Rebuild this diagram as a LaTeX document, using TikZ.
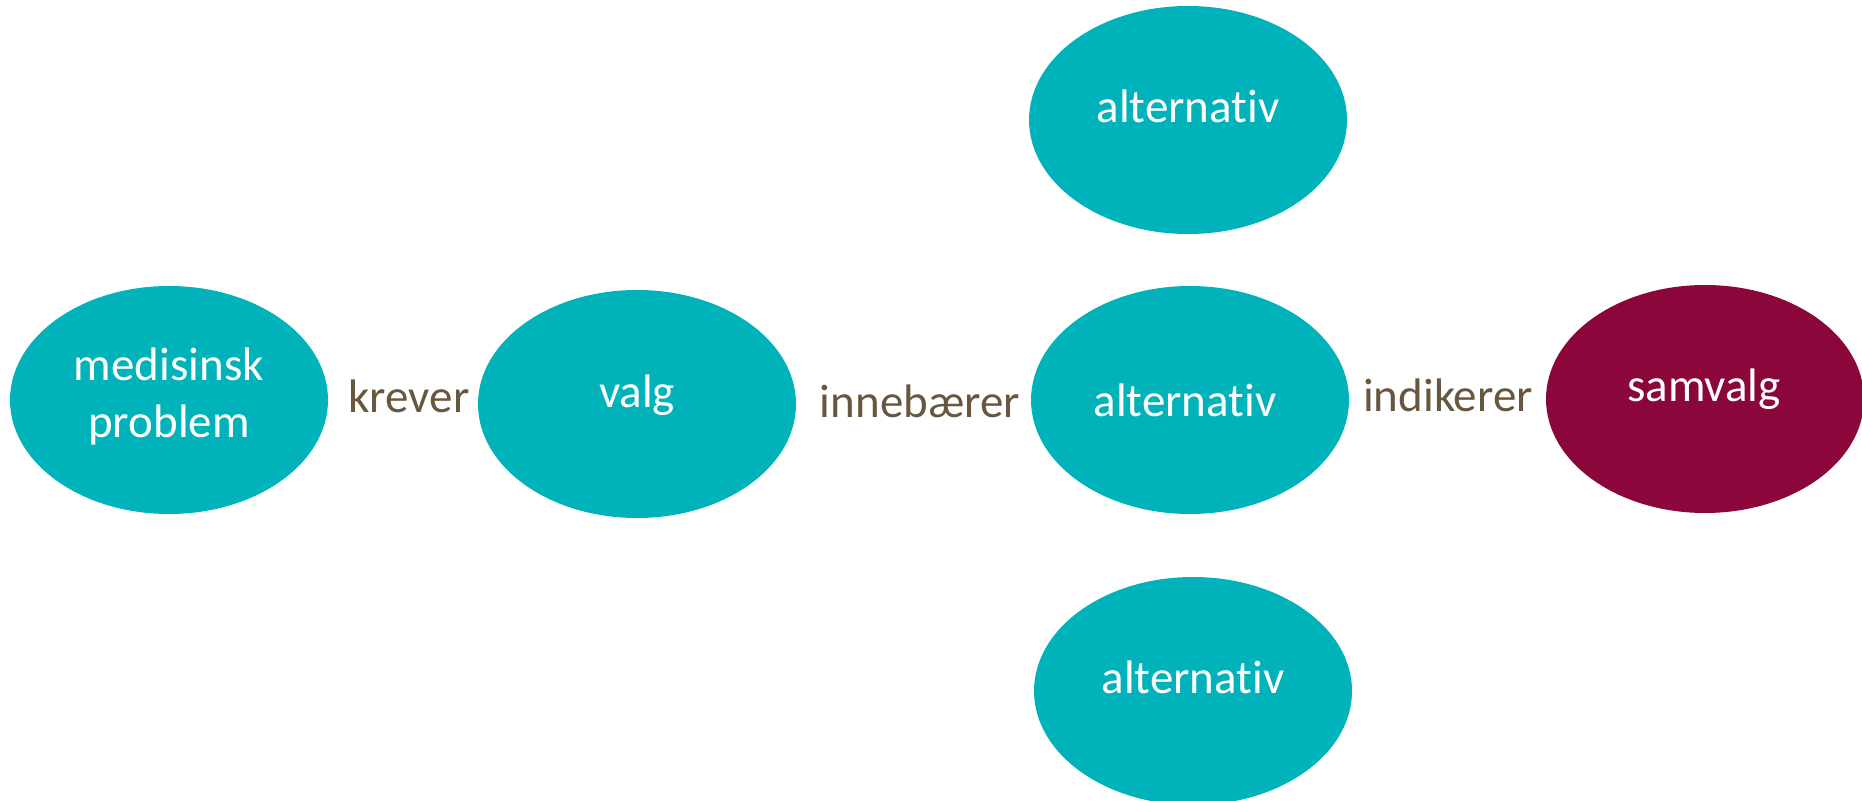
\documentclass[tikz,border=0pt]{standalone}
\usepackage{fontspec}
\setmainfont{Carlito}[Ligatures={NoCommon}]
\usetikzlibrary{shapes.geometric}
\definecolor{tealc}{RGB}{0,178,185}
\definecolor{maroonc}{RGB}{138,6,59}
\definecolor{brownc}{RGB}{104,86,62}
\tikzset{
  bubble/.style={ellipse, fill=tealc, draw=none, minimum width=159pt, minimum height=114pt, inner sep=0pt},
  redbubble/.style={bubble, fill=maroonc},
  btext/.style={text=white, font=\fontsize{23.5pt}{28.5pt}\selectfont, anchor=base, inner sep=0pt, align=center},
  ltext/.style={text=brownc, font=\fontsize{23.5pt}{28.5pt}\selectfont, anchor=base, inner sep=0pt}
}
\begin{document}
\begin{tikzpicture}[x=0.5pt, y=-0.5pt]
\useasboundingbox (0,0) rectangle (1862,801);
% ellipses
\node[bubble] (med) at (169,400) {};
\node[bubble] (valg) at (637,404) {};
\node[bubble] (alt1) at (1188,120) {};
\node[bubble] (alt2) at (1190,400) {};
\node[bubble] (alt3) at (1193,691) {};
\node[redbubble] (samvalg) at (1705,399) {};
% texts in ellipses
\node[btext] (medt) at (169,438) {medisinsk\\problem};
\node[btext] (valgt) at (637,408) {valg};
\node[btext] (alt1t) at (1188,123) {alternativ};
\node[btext] (alt2t) at (1185,417) {alternativ};
\node[btext] (alt3t) at (1193,693) {alternativ};
\node[btext] (samvalgt) at (1704,402) {samvalg};
% relation labels
\node[ltext] (krever) at (409,413) {krever};
\node[ltext] (innebaerer) at (920,418) {innebærer};
\node[ltext] (indikerer) at (1448,412) {indikerer};
\end{tikzpicture}
\end{document}
